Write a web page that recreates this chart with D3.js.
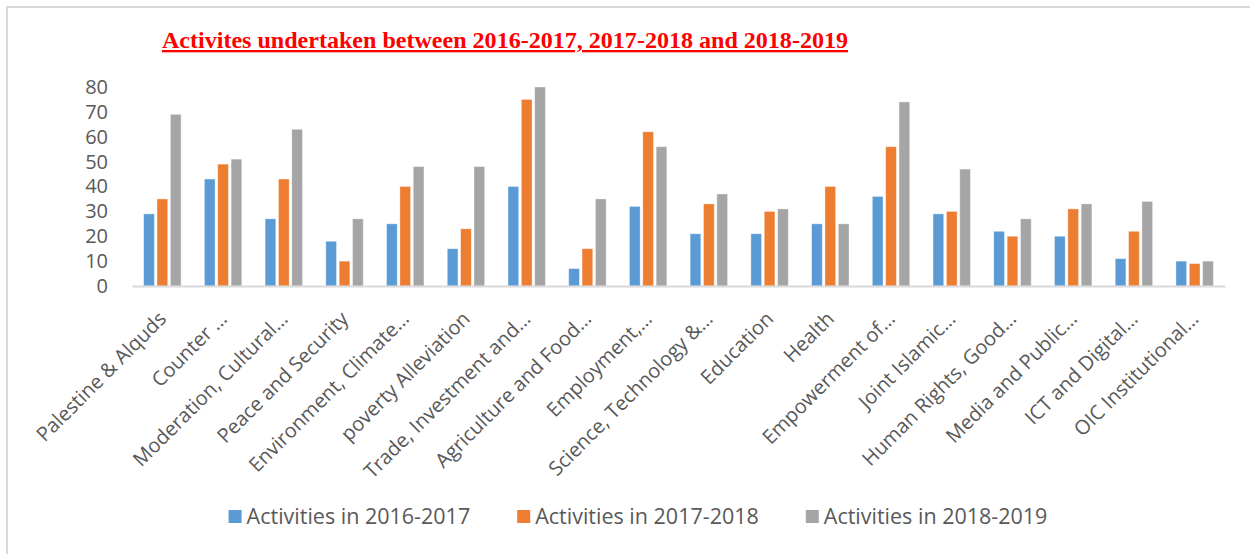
<!DOCTYPE html>
<html>
<head>
<meta charset="utf-8">
<script src="https://cdn.jsdelivr.net/npm/d3@7"></script>
<style>
  body { margin: 0; background: #fff; }
  svg { display: block; }
  .axis text { font-family: "Open Sans", sans-serif; fill: #595959; }
</style>
</head>
<body>
<svg id="chart"></svg>
<script>
// Chart data
const categories = ['Palestine & Alquds', 'Counter …', 'Moderation, Cultural…', 'Peace and Security',
  'Environment, Climate…', 'poverty Alleviation', 'Trade, Investment and…', 'Agriculture and Food…',
  'Employment,…', 'Science, Technology &…', 'Education', 'Health', 'Empowerment of…',
  'Joint Islamic…', 'Human Rights, Good…', 'Media and Public…', 'ICT and Digital…',
  'OIC Institutional…'];
const seriesNames = ['Activities in 2016-2017', 'Activities in 2017-2018', 'Activities in 2018-2019'];
const values2016 = [29, 43, 27, 18, 25, 15, 40, 7, 32, 21, 21, 25, 36, 29, 22, 20, 11, 10];
const values2017 = [35, 49, 43, 10, 40, 23, 75, 15, 62, 33, 30, 40, 56, 30, 20, 31, 22, 9];
const values2018 = [69, 51, 63, 27, 48, 48, 80, 35, 56, 37, 31, 25, 74, 47, 27, 33, 34, 10];
const yTicks = [0, 10, 20, 30, 40, 50, 60, 70, 80];
const colors = ['#5B9BD5', '#ED7D31', '#A5A5A5'];
const titleText = 'Activites undertaken between 2016-2017, 2017-2018 and 2018-2019';

const width = 1250, height = 554;
const margin = {top: 87, right: 25, bottom: 268, left: 132};
const innerW = width - margin.left - margin.right;
const innerH = height - margin.top - margin.bottom;

const data = categories.map((c, i) => ({
  key: c,
  vals: [values2016[i], values2017[i], values2018[i]]
}));

const svg = d3.select('#chart').attr('width', width).attr('height', height);

// chart frame
svg.append('rect')
  .attr('x', 7).attr('y', 7)
  .attr('width', width + 10).attr('height', height + 10)
  .attr('fill', 'none')
  .attr('stroke', '#d9d9d9')
  .attr('stroke-width', 2);

// title
svg.append('text')
  .attr('x', 162).attr('y', 48)
  .attr('textLength', 686)
  .attr('lengthAdjust', 'spacingAndGlyphs')
  .attr('font-family', '"Liberation Serif", "Times New Roman", serif')
  .attr('font-weight', 'bold')
  .attr('font-size', 23)
  .attr('fill', '#ff0000')
  .attr('text-decoration', 'underline')
  .text(titleText);

const chart = svg.append('g')
  .attr('transform', `translate(${margin.left},${margin.top})`);

const x0 = d3.scaleBand()
  .domain(categories)
  .range([0, innerW])
  .paddingInner(0.34)
  .paddingOuter(0.17);

const x1 = d3.scaleBand()
  .domain([0, 1, 2])
  .range([0, x0.bandwidth()])
  .paddingInner(0.2)
  .paddingOuter(0.1);

const y = d3.scaleLinear()
  .domain([0, 80])
  .range([innerH, 0]);

// y axis (labels only)
const yAxisG = chart.append('g')
  .attr('class', 'axis y-axis')
  .call(d3.axisLeft(y).tickValues(yTicks).tickSize(0).tickPadding(24));
yAxisG.select('.domain').remove();
yAxisG.selectAll('text').attr('font-size', 20);

// bars
const groups = chart.selectAll('.group')
  .data(data)
  .join('g')
  .attr('class', 'group')
  .attr('transform', d => `translate(${x0(d.key)},0)`);

groups.selectAll('rect')
  .data(d => d.vals.map((v, i) => ({i, v})))
  .join('rect')
  .attr('x', d => x1(d.i))
  .attr('width', x1.bandwidth())
  .attr('y', d => y(d.v))
  .attr('height', d => innerH - y(d.v))
  .attr('fill', d => colors[d.i])
  .attr('stroke', '#ffffff')
  .attr('stroke-opacity', 0.45)
  .attr('stroke-width', 0.8);

// x axis
const xAxisG = chart.append('g')
  .attr('class', 'axis x-axis')
  .attr('transform', `translate(0,${innerH})`)
  .call(d3.axisBottom(x0).tickSize(0).tickSizeOuter(0));
xAxisG.select('.domain')
  .attr('stroke', '#d9d9d9')
  .attr('stroke-width', 2);
xAxisG.selectAll('text')
  .attr('font-size', 20)
  .style('text-anchor', 'end')
  .attr('dy', 0)
  .attr('transform', 'translate(3,32) rotate(-45)');

// legend
const legend = svg.append('g').attr('class', 'legend');
const items = legend.selectAll('g')
  .data(seriesNames)
  .join('g');
items.append('rect')
  .attr('width', 13).attr('height', 13)
  .attr('y', -13)
  .attr('fill', (d, i) => colors[i]);
items.append('text')
  .attr('x', 18)
  .attr('y', 1)
  .attr('font-family', '"Open Sans", sans-serif')
  .attr('font-size', 21.5)
  .attr('fill', '#595959')
  .text(d => d);

let offset = 0;
items.each(function() {
  const w = this.getBBox().width;
  d3.select(this).attr('data-x', offset);
  offset += w + 47;
});
const totalW = offset - 47;
const startX = 638 - totalW / 2;
items.attr('transform', function() {
  return `translate(${startX + (+this.getAttribute('data-x'))},523)`;
});
</script>
</body>
</html>
